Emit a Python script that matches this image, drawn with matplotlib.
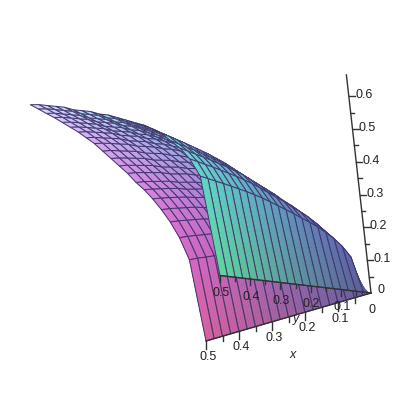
import matplotlib
matplotlib.use('Agg')
import matplotlib.pyplot as plt
import numpy as np
from matplotlib.collections import PolyCollection

plt.rcParams['font.family'] = 'Liberation Sans'

# heights read along the two far edges of the surface, x=0.5 and y=0.5
x_grid = [0, .025, .05, .075, .1, .125, .15, .175, .2, .225, .25, .275, .3, .325, .35, .375, .4, .425, .45, .475, .5]
y_grid = [0, .025, .05, .075, .1, .125, .15, .175, .2, .225, .25, .275, .3, .325, .35, .375, .4, .425, .45, .475, .5]
z_along_x = [0, .31, .37, .41, .44, .47, .49, .51, .525, .54, .555, .57, .58, .595, .605, .615, .63, .64, .65, .66, .667]
z_along_y = [0, .245, .31, .355, .39, .42, .445, .465, .49, .51, .53, .55, .57, .585, .6, .612, .624, .636, .646, .657, .667]
z_corner = .667

x_ticks = [.1, .2, .3, .4, .5]
y_ticks = [.1, .2, .3, .4, .5]
z_ticks = [.1, .2, .3, .4, .5, .6]

# screen position of the origin and of one unit along each axis
origin = np.array([371, 293])
x_vec = np.array([-330, 96])
y_vec = np.array([-302, -35])
z_vec = np.array([-37, -328])
# direction towards the viewer, the one that projects to nothing
view = np.array([-.98, 1.12, -.41])


def proj(x, y, z):
    return origin + x * x_vec + y * y_vec + z * z_vec


def shade(x, y, z):
    return np.clip((.36 + .95 * x, .36 + 1.0 * y, .6 + .6 * z), 0, 1)


xs = np.array(x_grid)
ys = np.array(y_grid)
zs = np.outer(z_along_x, z_along_y) / z_corner

fig = plt.figure(figsize=(4, 4), dpi=100)
ax = fig.add_axes([0, 0, 1, 1])
ax.set_xlim(0, 400)
ax.set_ylim(400, 0)
ax.axis('off')

# cells sorted far to near, each one split up so the colour runs smoothly
cells = []
for i in range(len(xs) - 1):
    for j in range(len(ys) - 1):
        xm = (xs[i] + xs[i + 1]) / 2
        ym = (ys[j] + ys[j + 1]) / 2
        zm = (zs[i, j] + zs[i + 1, j] + zs[i + 1, j + 1] + zs[i, j + 1]) / 4
        cells.append((view @ [xm, ym, zm], i, j))
cells.sort()

polys = []
faces = []
edges = []
widths = []
mesh_color = (.25, .2, .42, 1)
n_sub = 5
for _, i, j in cells:
    s = np.linspace(0, 1, n_sub + 1)
    c = np.array([[xs[i], ys[j], zs[i, j]], [xs[i + 1], ys[j], zs[i + 1, j]],
                  [xs[i + 1], ys[j + 1], zs[i + 1, j + 1]], [xs[i], ys[j + 1], zs[i, j + 1]]])
    def at(a, b):
        return (1 - a) * (1 - b) * c[0] + a * (1 - b) * c[1] + a * b * c[2] + (1 - a) * b * c[3]
    for a0, a1 in zip(s[:-1], s[1:]):
        for b0, b1 in zip(s[:-1], s[1:]):
            corners = [at(a0, b0), at(a1, b0), at(a1, b1), at(a0, b1)]
            col = shade(*at((a0 + a1) / 2, (b0 + b1) / 2))
            polys.append([proj(*q) for q in corners])
            faces.append((*col, 1))
            edges.append((*col, 1))
            widths.append(.3)
    polys.append([proj(*q) for q in c])
    faces.append((0, 0, 0, 0))
    edges.append(mesh_color)
    widths.append(.7)
ax.add_collection(PolyCollection(polys, facecolors=faces, edgecolors=edges, linewidths=widths))


def axis_line(vec, length, ticks, tick_dir, label_off):
    end = origin + vec * length
    ax.plot([origin[0], end[0]], [origin[1], end[1]], color='#333333', lw=1)
    for t in ticks:
        q = origin + vec * t
        ax.plot([q[0], q[0] + tick_dir[0]], [q[1], q[1] + tick_dir[1]], color='#333333', lw=1)
        ax.text(q[0] + label_off[0], q[1] + label_off[1], '%g' % t, fontsize=9,
                ha='center', va='center', color='#222222')
    for t in np.array(ticks) - .05:
        q = origin + vec * t
        ax.plot([q[0], q[0] + tick_dir[0] * .6], [q[1], q[1] + tick_dir[1] * .6], color='#333333', lw=1)


axis_line(x_vec, .5, x_ticks, (0, 8), (2, 16))
axis_line(y_vec, .5, y_ticks, (0, 6), (1, 18))
axis_line(z_vec, .665, z_ticks, (6, 0), (15, -1))

ax.text(381, 290, '0', fontsize=9, ha='center', va='center', color='#222222')
ax.text(372, 310, '0', fontsize=9, ha='center', va='center', color='#222222')
ax.text(293, 355, 'x', fontsize=9, style='italic', ha='center', va='center', color='#222222')
ax.text(296, 319, 'y', fontsize=9, style='italic', ha='center', va='center', color='#222222')

fig.savefig('out.png', dpi=100)
